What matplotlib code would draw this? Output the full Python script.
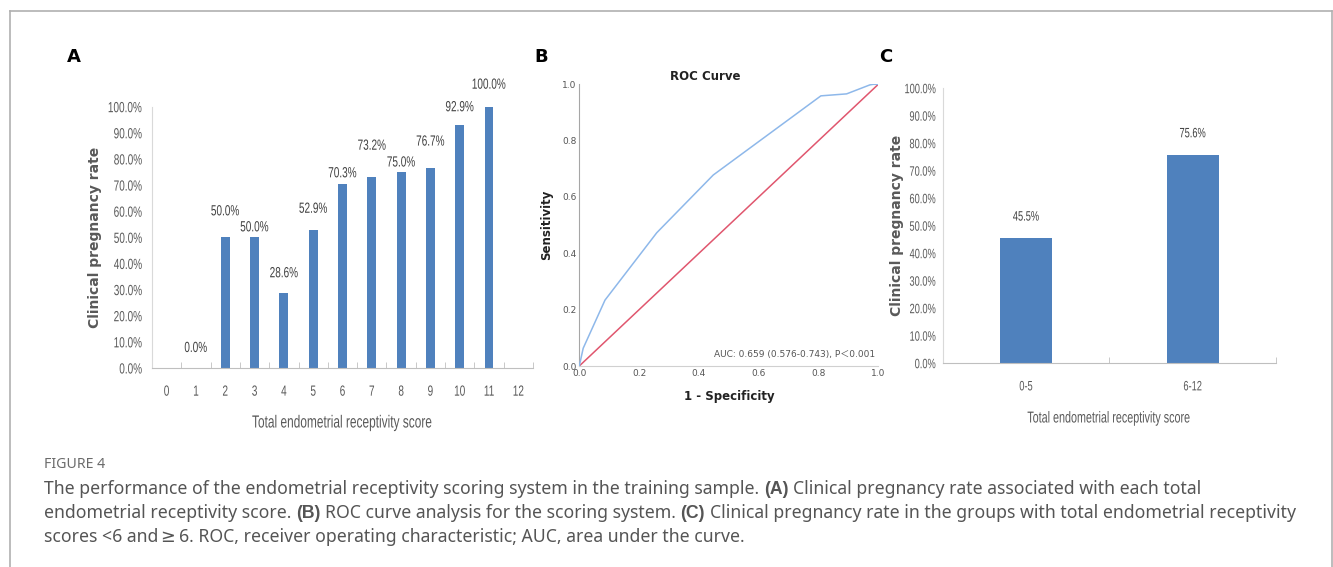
import matplotlib.pyplot as plt
from matplotlib.lines import Line2D
from matplotlib.patheffects import AbstractPathEffect
from matplotlib.ticker import FixedLocator, FuncFormatter
from matplotlib.transforms import Affine2D
import numpy as np

W, H = 1333, 567

# ---- data -------------------------------------------------------------------
scores = list(range(13))
score_rate = [np.nan, 0.0, 50.0, 50.0, 28.6, 52.9, 70.3, 73.2, 75.0, 76.7, 92.9, 100.0, np.nan]

groups = ["0-5", "6-12"]
group_rate = [45.5, 75.6]

roc_fpr = [0.0, 0.013, 0.086, 0.259, 0.448, 0.808, 0.894, 0.972, 0.983, 1.0]
roc_tpr = [0.0, 0.063, 0.234, 0.473, 0.678, 0.959, 0.966, 0.998, 1.0, 1.0]
auc_text = "AUC: 0.659 (0.576-0.743), P\uff1c0.001"

# label lift above bar top (pixels), Excel labels were nudged by hand
lift_a = [0, 20, 26, 10, 20, 21, 11, 31, 9.5, 26, 18, 22, 0]
lift_c = [21, 21.5]

BAR = "#4f81bd"
GREY_TXT = "#595959"
NARROW = "Liberation Sans"
SX = 0.68


class Squeeze(AbstractPathEffect):
    """Fake a condensed face: squash the glyph path horizontally."""

    def __init__(self, sx=SX, anchor="center"):
        super().__init__()
        self.sx, self.anchor = sx, anchor

    def draw_path(self, renderer, gc, tpath, affine, rgbFace=None):
        ext = tpath.get_extents(affine)
        cx = {"left": ext.x0, "right": ext.x1}.get(self.anchor, (ext.x0 + ext.x1) / 2)
        squash = Affine2D().translate(-cx, 0).scale(self.sx, 1).translate(cx, 0)
        renderer.draw_path(gc, tpath, affine + squash, rgbFace)


def fx(px):
    return px / W


def fy(py):
    return 1 - py / H


def pct(v, _):
    return f"{v:.1f}%"


fig = plt.figure(figsize=(W / 100, H / 100), dpi=100)
fig.patch.set_facecolor("white")

# frame around the figure
for xs, ys in [([10, 10], [11, 567]), ([10, 1332], [11, 11]), ([1332, 1332], [11, 567])]:
    fig.add_artist(Line2D([fx(x) for x in xs], [fy(y) for y in ys], color="#b0b0b0", lw=1.2))


def excel_bar_axes(ax, cats, vals, lifts, width, fs, ypad):
    x = np.arange(len(cats))
    ax.bar(x, vals, width=width, color=BAR, zorder=2)
    for xi, v, lift in zip(x, vals, lifts):
        if np.isnan(v):
            continue
        ax.annotate(f"{v:.1f}%", (xi, v), xytext=(0, lift * 0.72), textcoords="offset points",
                    ha="center", va="center", fontsize=fs, color="#404040", family=NARROW,
                    path_effects=[Squeeze()])
    ax.set_xlim(-0.5, len(cats) - 0.5)
    ax.set_ylim(0, 100)
    ax.yaxis.set_major_locator(FixedLocator(np.arange(0, 101, 10)))
    ax.yaxis.set_major_formatter(FuncFormatter(pct))
    ax.set_xticks(x)
    ax.set_xticklabels(cats)
    ax.xaxis.set_minor_locator(FixedLocator(np.arange(-0.5, len(cats), 1.0)))
    for s in ["top", "right"]:
        ax.spines[s].set_visible(False)
    ax.spines["left"].set_color("#d9d9d9")
    ax.spines["bottom"].set_color("#bfbfbf")
    ax.tick_params(axis="y", length=0, pad=ypad, labelsize=fs, labelcolor=GREY_TXT)
    ax.tick_params(axis="x", which="major", length=0, pad=12, labelsize=fs, labelcolor=GREY_TXT)
    ax.tick_params(axis="x", which="minor", length=4, direction="in", color="#bfbfbf")
    for lab in ax.get_yticklabels():
        lab.set_family(NARROW)
        lab.set_path_effects([Squeeze(anchor="right")])
    for lab in ax.get_xticklabels():
        lab.set_family(NARROW)
        lab.set_path_effects([Squeeze()])


# ---- A: rate per score ----------------------------------------------------------
ax_a = fig.add_axes([fx(152), fy(368), fx(533 - 152), (368 - 106.7) / H])
excel_bar_axes(ax_a, [str(s) for s in scores], score_rate, lift_a, 0.3, 10.6, 6.7)
fig.text(fx(95), fy(237), "Clinical pregnancy rate", rotation=90, ha="center", va="center",
         fontsize=10, fontweight="bold", color=GREY_TXT)
fig.text(fx(342), fy(423), "Total endometrial receptivity score", ha="center", va="center",
         fontsize=12.6, color=GREY_TXT, family=NARROW, path_effects=[Squeeze()])

# ---- B: ROC -----------------------------------------------------------------
ax_b = fig.add_axes([fx(579.3), fy(366), fx(878.3 - 579.3), (366 - 84.3) / H])
ax_b.plot([0, 1], [0, 1], color="#e0566e", lw=1.1, zorder=2)
ax_b.plot(roc_fpr, roc_tpr, color="#8eb8ea", lw=1.1, zorder=3)
ax_b.set_xlim(0, 1)
ax_b.set_ylim(0, 1)
ticks = np.arange(0, 1.01, 0.2)
ax_b.set_xticks(ticks)
ax_b.set_yticks(ticks)
ax_b.xaxis.set_major_formatter(FuncFormatter(lambda v, _: f"{v:.1f}"))
ax_b.yaxis.set_major_formatter(FuncFormatter(lambda v, _: f"{v:.1f}"))
for s in ["top", "right"]:
    ax_b.spines[s].set_visible(False)
ax_b.spines["left"].set_color("#a6a6a6")
ax_b.spines["bottom"].set_color("#d0d0d0")
ax_b.tick_params(length=0, pad=2, labelsize=6.5, labelcolor="#555555")
ax_b.text(0.99, 0.04, auc_text, transform=ax_b.transAxes, ha="right", va="center",
          fontsize=6.5, color="#555555", family=["DejaVu Sans", "Noto Sans CJK SC"])
fig.text(fx(705.7), fy(76), "ROC Curve", ha="center", va="center", fontsize=8.5,
         fontweight="bold", color="#222222")
fig.text(fx(729), fy(396.7), "1 - Specificity", ha="center", va="center", fontsize=8.5,
         fontweight="bold", color="#222222")
fig.text(fx(546.7), fy(225), "Sensitivity", rotation=90, ha="center", va="center",
         fontsize=8.5, fontweight="bold", color="#222222")

# ---- C: grouped rate ------------------------------------------------------------
ax_c = fig.add_axes([fx(942.7), fy(362.7), fx(333.3), (362.7 - 87.7) / H])
excel_bar_axes(ax_c, groups, group_rate, lift_c, 0.31, 9.8, 5)
fig.text(fx(896.7), fy(225), "Clinical pregnancy rate", rotation=90, ha="center", va="center",
         fontsize=10, fontweight="bold", color=GREY_TXT)
fig.text(fx(1109), fy(418), "Total endometrial receptivity score", ha="center", va="center",
         fontsize=11.4, color=GREY_TXT, family=NARROW, path_effects=[Squeeze()])

# panel letters
for letter, x in [("A", 74), ("B", 541), ("C", 886)]:
    fig.text(fx(x), fy(57), letter, ha="center", va="center", fontsize=13,
             fontweight="bold", color="black")

# ---- caption ------------------------------------------------------------------
CAP = "#555555"
REG = ["Noto Sans", "DejaVu Sans"]
BOLD = ["Liberation Sans", "DejaVu Sans"]
SYM = ["DejaVu Sans"]
CAP_FS = 12.7

fig.text(fx(44), fy(465), "FIGURE 4", ha="left", va="center", fontsize=10.2,
         color="#6b6b6b", family=REG)

# (text, weight, family, space after)
caption_lines = [
    [("The performance of the endometrial receptivity scoring system in the training sample.", "normal", REG, True),
     ("(A)", "bold", BOLD, True),
     ("Clinical pregnancy rate associated with each total", "normal", REG, False)],
    [("endometrial receptivity score.", "normal", REG, True),
     ("(B)", "bold", BOLD, True),
     ("ROC curve analysis for the scoring system.", "normal", REG, True),
     ("(C)", "bold", BOLD, True),
     ("Clinical pregnancy rate in the groups with total endometrial receptivity", "normal", REG, False)],
    [("scores <6 and", "normal", REG, False),
     ("\u2265", "normal", SYM, True),
     ("6. ROC, receiver operating characteristic; AUC, area under the curve.", "normal", REG, False)],
]
caption_y = [489, 513, 537]

renderer = fig.canvas.get_renderer()
probe1 = fig.text(0, 0, "a a", fontsize=CAP_FS, family=REG)
probe2 = fig.text(0, 0, "aa", fontsize=CAP_FS, family=REG)
space_px = probe1.get_window_extent(renderer).width - probe2.get_window_extent(renderer).width
probe1.remove()
probe2.remove()

for runs, y in zip(caption_lines, caption_y):
    x = 44
    for txt, weight, fam, gap in runs:
        t = fig.text(fx(x), fy(y), txt, ha="left", va="center", fontsize=CAP_FS,
                     fontweight=weight, color=CAP, family=fam)
        x += t.get_window_extent(renderer).width + (space_px if gap else 1.5)

fig.savefig("out.png", dpi=100, facecolor="white")
